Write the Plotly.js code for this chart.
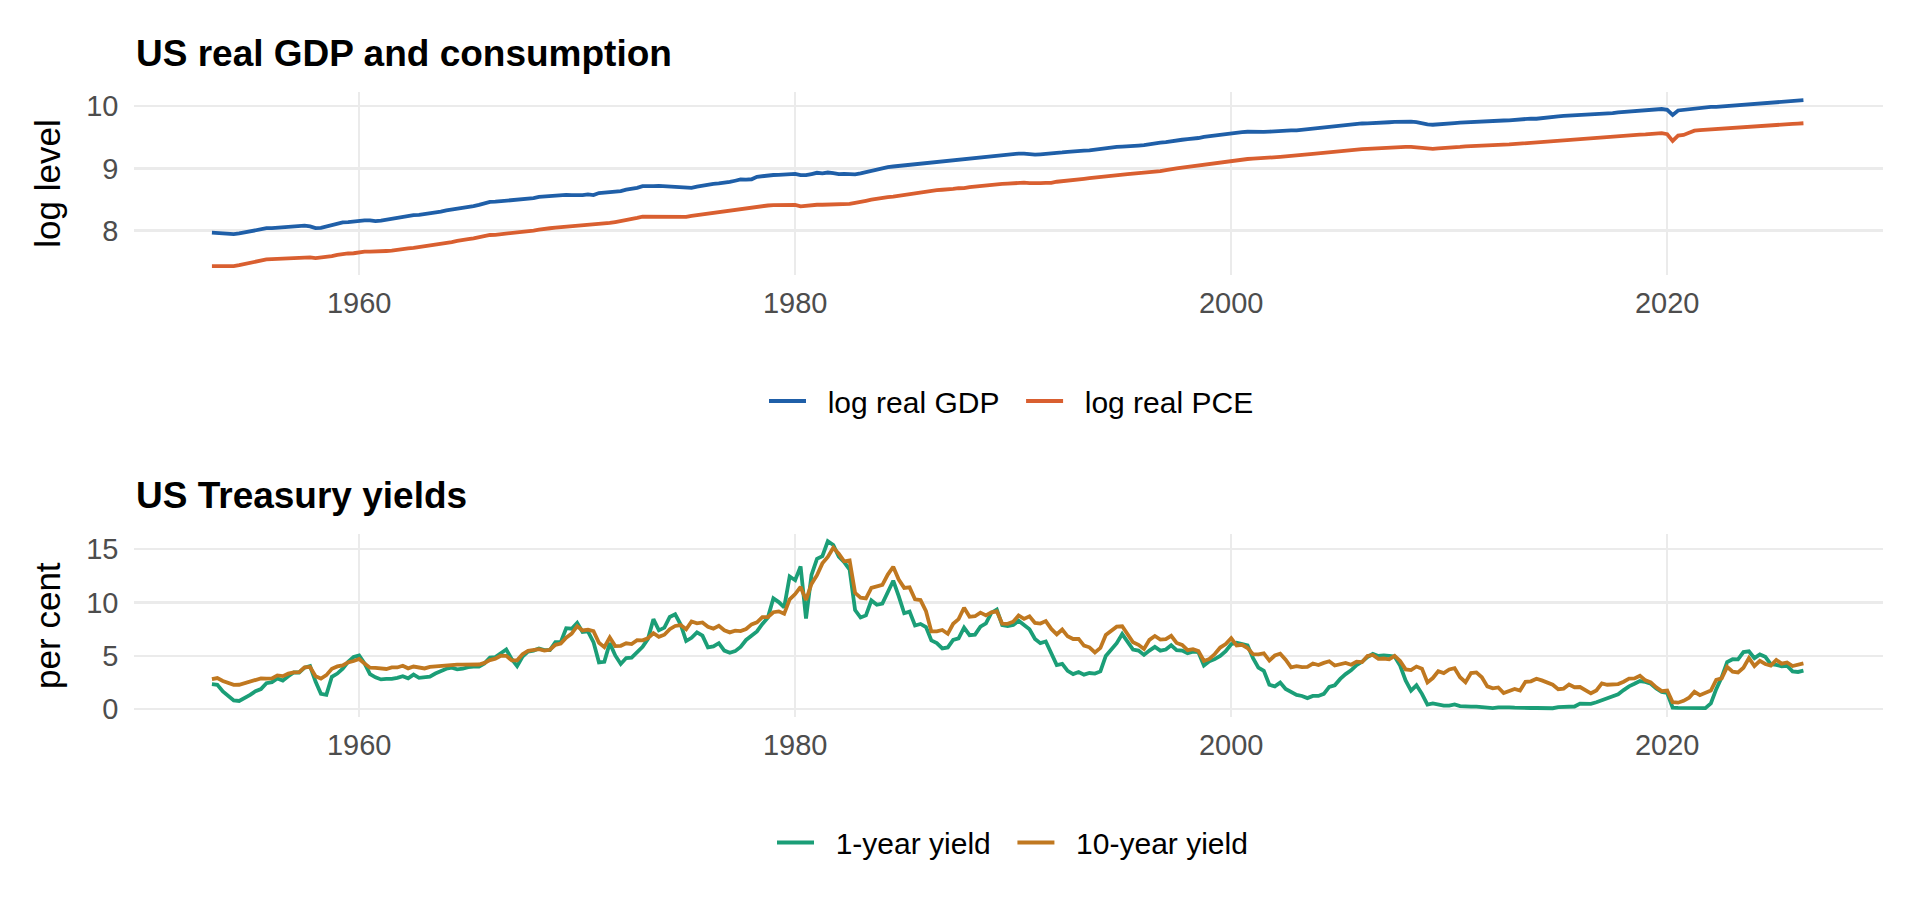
<!DOCTYPE html>
<html>
<head>
<meta charset="utf-8">
<script src="https://cdn.plot.ly/plotly-3.0.1.min.js"></script>
<style>
  html, body { margin: 0; padding: 0; background: #ffffff; }
  #chart { width: 1920px; height: 921px; }
</style>
</head>
<body>
<div id="chart"></div>
<script>
// ---- Data (quarterly, first month of each quarter; 1953Q2 .. 2026Q2) ----
const startYear = 1953;
const startQuarter = 2;
const tickYears = ['1960', '1980', '2000', '2020'];
const levelNames = ['log real GDP', 'log real PCE'];
const yieldNames = ['1-year yield', '10-year yield'];

const logGDP = [
  7.969, 7.963, 7.951,
  7.947, 7.946, 7.955, 7.972,
  7.998, 8.015, 8.030, 8.040,
  8.040, 8.048, 8.050, 8.062,
  8.070, 8.071, 8.080, 8.068,
  8.041, 8.046, 8.070, 8.093,
  8.110, 8.134, 8.137, 8.145,
  8.168, 8.164, 8.166, 8.153,
  8.162, 8.178, 8.196, 8.213,
  8.230, 8.241, 8.251, 8.254,
  8.265, 8.277, 8.298, 8.305,
  8.327, 8.339, 8.354, 8.358,
  8.381, 8.393, 8.413, 8.438,
  8.462, 8.465, 8.474, 8.482,
  8.491, 8.491, 8.498, 8.505,
  8.524, 8.542, 8.550, 8.554,
  8.567, 8.571, 8.576, 8.572,
  8.570, 8.571, 8.582, 8.571,
  8.604, 8.609, 8.616, 8.619,
  8.636, 8.660, 8.670, 8.688,
  8.714, 8.708, 8.714, 8.719,
  8.712, 8.713, 8.700, 8.696,
  8.680, 8.687, 8.708, 8.724,
  8.745, 8.752, 8.758, 8.766,
  8.782, 8.801, 8.821, 8.820,
  8.825, 8.865, 8.876, 8.891,
  8.893, 8.894, 8.903, 8.907,
  8.911, 8.891, 8.890, 8.909,
  8.929, 8.921, 8.933, 8.922,
  8.906, 8.910, 8.905, 8.905,
  8.919, 8.940, 8.962, 8.982,
  9.002, 9.019, 9.030, 9.039,
  9.049, 9.058, 9.074, 9.083,
  9.093, 9.097, 9.107, 9.113,
  9.121, 9.131, 9.141, 9.156,
  9.163, 9.176, 9.183, 9.196,
  9.205, 9.212, 9.218, 9.221,
  9.232, 9.236, 9.236, 9.226,
  9.219, 9.225, 9.229, 9.234,
  9.245, 9.256, 9.266, 9.277,
  9.278, 9.285, 9.289, 9.303,
  9.312, 9.326, 9.333, 9.345,
  9.349, 9.350, 9.359, 9.366,
  9.373, 9.390, 9.400, 9.412,
  9.420, 9.437, 9.449, 9.459,
  9.470, 9.476, 9.487, 9.504,
  9.515, 9.524, 9.538, 9.557,
  9.565, 9.582, 9.583, 9.587,
  9.583, 9.588, 9.586, 9.589,
  9.597, 9.602, 9.607, 9.608,
  9.611, 9.620, 9.637, 9.650,
  9.659, 9.666, 9.676, 9.686,
  9.695, 9.700, 9.709, 9.714,
  9.720, 9.723, 9.724, 9.732,
  9.735, 9.740, 9.745, 9.750,
  9.746, 9.750, 9.743, 9.720,
  9.705, 9.700, 9.703, 9.712,
  9.716, 9.726, 9.733, 9.739,
  9.736, 9.743, 9.743, 9.754,
  9.762, 9.767, 9.768, 9.769,
  9.779, 9.782, 9.790, 9.799,
  9.796, 9.808, 9.820, 9.826,
  9.834, 9.841, 9.845, 9.846,
  9.852, 9.856, 9.862, 9.868,
  9.873, 9.879, 9.886, 9.898,
  9.906, 9.911, 9.917, 9.919,
  9.925, 9.933, 9.945, 9.952,
  9.938, 9.858, 9.929, 9.939,
  9.952, 9.966, 9.976, 9.992,
  9.987, 9.986, 9.992, 10.002,
  10.007, 10.014, 10.027, 10.034,
  10.038, 10.046, 10.053, 10.059,
  10.058, 10.067, 10.076, 10.082,
  10.088, 10.094
];

const logPCE = [
  7.432, 7.430, 7.422,
  7.424, 7.432, 7.446, 7.465,
  7.490, 7.510, 7.528, 7.540,
  7.545, 7.548, 7.553, 7.562,
  7.567, 7.569, 7.575, 7.573,
  7.560, 7.566, 7.580, 7.592,
  7.612, 7.626, 7.634, 7.638,
  7.652, 7.664, 7.663, 7.662,
  7.662, 7.674, 7.679, 7.696,
  7.706, 7.716, 7.725, 7.738,
  7.746, 7.754, 7.768, 7.776,
  7.797, 7.817, 7.836, 7.842,
  7.863, 7.876, 7.893, 7.917,
  7.931, 7.934, 7.944, 7.949,
  7.957, 7.968, 7.974, 7.980,
  8.002, 8.016, 8.034, 8.039,
  8.050, 8.057, 8.062, 8.069,
  8.075, 8.080, 8.089, 8.088,
  8.108, 8.117, 8.124, 8.139,
  8.153, 8.172, 8.188, 8.207,
  8.226, 8.224, 8.228, 8.225,
  8.218, 8.222, 8.228, 8.213,
  8.221, 8.239, 8.251, 8.264,
  8.284, 8.294, 8.305, 8.320,
  8.333, 8.339, 8.349, 8.365,
  8.371, 8.390, 8.396, 8.404,
  8.409, 8.408, 8.414, 8.417,
  8.413, 8.390, 8.401, 8.413,
  8.416, 8.416, 8.420, 8.410,
  8.418, 8.422, 8.431, 8.448,
  8.459, 8.480, 8.497, 8.514,
  8.524, 8.539, 8.547, 8.560,
  8.579, 8.591, 8.610, 8.614,
  8.623, 8.634, 8.652, 8.657,
  8.657, 8.669, 8.681, 8.682,
  8.700, 8.710, 8.719, 8.732,
  8.735, 8.740, 8.751, 8.756,
  8.763, 8.767, 8.770, 8.763,
  8.757, 8.764, 8.768, 8.767,
  8.785, 8.792, 8.803, 8.817,
  8.823, 8.832, 8.843, 8.854,
  8.865, 8.874, 8.882, 8.893,
  8.897, 8.906, 8.915, 8.922,
  8.930, 8.941, 8.946, 8.956,
  8.972, 8.980, 8.998, 9.012,
  9.024, 9.040, 9.052, 9.066,
  9.076, 9.088, 9.099, 9.112,
  9.128, 9.135, 9.143, 9.150,
  9.155, 9.158, 9.161, 9.176,
  9.179, 9.185, 9.192, 9.197,
  9.202, 9.212, 9.226, 9.233,
  9.243, 9.249, 9.258, 9.269,
  9.277, 9.287, 9.295, 9.298,
  9.308, 9.313, 9.319, 9.328,
  9.333, 9.337, 9.342, 9.346,
  9.345, 9.344, 9.335, 9.321,
  9.318, 9.314, 9.321, 9.323,
  9.329, 9.337, 9.343, 9.353,
  9.359, 9.361, 9.364, 9.367,
  9.374, 9.376, 9.380, 9.384,
  9.391, 9.394, 9.400, 9.408,
  9.412, 9.421, 9.431, 9.442,
  9.450, 9.459, 9.465, 9.471,
  9.476, 9.484, 9.489, 9.495,
  9.499, 9.505, 9.510, 9.520,
  9.524, 9.533, 9.540, 9.542,
  9.545, 9.553, 9.560, 9.564,
  9.548, 9.440, 9.526, 9.536,
  9.570, 9.605, 9.612, 9.619,
  9.624, 9.628, 9.632, 9.636,
  9.647, 9.650, 9.657, 9.665,
  9.668, 9.675, 9.684, 9.693,
  9.695, 9.701, 9.709, 9.714,
  9.719, 9.724
];

const yield1y = [
  2.36, 2.30, 1.68,
  1.25, 0.83, 0.78, 1.05,
  1.35, 1.70, 1.90, 2.45,
  2.55, 2.90, 2.70, 3.10,
  3.45, 3.45, 3.90, 4.05,
  2.60, 1.45, 1.35, 3.05,
  3.35, 3.80, 4.45, 4.90,
  5.05, 4.30, 3.30, 3.00,
  2.80, 2.85, 2.85, 2.95,
  3.10, 2.90, 3.25, 2.95,
  3.00, 3.05, 3.35, 3.55,
  3.80, 3.90, 3.75, 3.80,
  3.95, 4.00, 4.00, 4.30,
  4.85, 4.90, 5.25, 5.60,
  4.70, 4.05, 4.95, 5.40,
  5.50, 5.70, 5.55, 5.55,
  6.30, 6.30, 7.60, 7.55,
  8.10, 7.25, 7.30, 6.30,
  4.40, 4.45, 6.20, 5.05,
  4.25, 4.80, 4.85, 5.30,
  5.85, 6.60, 8.45, 7.40,
  7.65, 8.65, 8.90, 7.95,
  6.40, 6.70, 7.20, 6.90,
  5.80, 5.90, 6.20, 5.50,
  5.30, 5.45, 5.85, 6.50,
  6.95, 7.30, 8.00, 8.60,
  10.40, 10.05, 9.55, 12.45,
  12.10, 13.40, 8.50, 12.60,
  14.10, 14.35, 15.75, 15.40,
  14.30, 13.80, 13.10, 9.30,
  8.60, 8.80, 10.20, 9.80,
  9.90, 10.90, 12.05, 10.60,
  9.00, 9.15, 7.85, 8.00,
  7.70, 6.45, 6.20, 5.70,
  5.80, 6.50, 6.65, 7.65,
  6.95, 7.00, 7.75, 8.05,
  9.05, 9.35, 7.90, 7.80,
  7.90, 8.30, 7.90, 7.50,
  6.60, 6.20, 6.35, 5.30,
  4.15, 4.25, 3.60, 3.30,
  3.50, 3.25, 3.40, 3.35,
  3.55, 5.00, 5.60, 6.20,
  7.05, 6.25, 5.60, 5.50,
  5.10, 5.50, 5.85, 5.50,
  5.60, 6.00, 5.55, 5.50,
  5.25, 5.40, 5.35, 4.10,
  4.50, 4.70, 5.00, 5.45,
  6.10, 6.25, 6.10, 6.00,
  4.80, 3.90, 3.60, 2.30,
  2.15, 2.50, 1.90, 1.60,
  1.35, 1.25, 1.05, 1.25,
  1.25, 1.45, 2.10, 2.25,
  2.85, 3.30, 3.65, 4.15,
  4.45, 4.90, 5.20, 5.00,
  5.05, 5.00, 4.95, 4.10,
  2.70, 1.75, 2.25, 1.45,
  0.45, 0.55, 0.45, 0.35,
  0.35, 0.45, 0.30, 0.25,
  0.25, 0.25, 0.20, 0.12,
  0.12, 0.18, 0.20, 0.18,
  0.15, 0.12, 0.12, 0.12,
  0.12, 0.11, 0.11, 0.10,
  0.20, 0.23, 0.30, 0.26,
  0.54, 0.55, 0.51, 0.66,
  0.83, 1.07, 1.22, 1.40,
  1.80, 2.15, 2.39, 2.65,
  2.56, 2.39, 1.96, 1.63,
  1.53, 0.16, 0.13, 0.13,
  0.10, 0.06, 0.08, 0.11,
  0.55, 1.89, 2.99, 4.43,
  4.69, 4.68, 5.37, 5.44,
  4.79, 5.14, 4.92, 4.23,
  4.17, 4.03, 4.08, 3.55,
  3.50, 3.62
];

const yield10y = [
  2.83, 2.93, 2.66,
  2.48, 2.29, 2.30, 2.43,
  2.61, 2.75, 2.90, 2.88,
  2.90, 3.18, 3.11, 3.34,
  3.46, 3.48, 3.93, 3.97,
  3.09, 2.88, 3.20, 3.80,
  4.02, 4.12, 4.40, 4.53,
  4.72, 4.28, 3.90, 3.89,
  3.84, 3.78, 3.92, 3.92,
  4.08, 3.84, 4.01, 3.93,
  3.83, 3.97, 4.02, 4.11,
  4.17, 4.23, 4.19, 4.19,
  4.19, 4.20, 4.20, 4.35,
  4.61, 4.75, 5.02, 5.01,
  4.58, 4.59, 5.16, 5.48,
  5.53, 5.64, 5.50, 5.58,
  6.04, 6.17, 6.72, 7.10,
  7.79, 7.39, 7.46, 7.33,
  6.24, 5.83, 6.73, 5.93,
  5.95, 6.19, 6.11, 6.48,
  6.46, 6.67, 7.13, 6.79,
  6.99, 7.51, 7.81, 7.90,
  7.50, 8.23, 8.06, 8.14,
  7.74, 7.56, 7.83, 7.41,
  7.21, 7.37, 7.33, 7.52,
  7.96, 8.15, 8.64, 8.64,
  9.10, 9.18, 8.95, 10.30,
  10.80, 11.47, 10.25, 11.75,
  12.57, 13.68, 14.28, 15.15,
  14.59, 13.87, 13.95, 10.91,
  10.46, 10.40, 11.38, 11.54,
  11.67, 12.63, 13.36, 12.16,
  11.38, 11.43, 10.31, 10.24,
  9.19, 7.30, 7.30, 7.43,
  7.08, 8.02, 8.45, 9.52,
  8.67, 8.72, 9.06, 8.80,
  9.09, 9.18, 8.02, 8.01,
  8.21, 8.79, 8.47, 8.72,
  8.09, 8.04, 8.27, 7.53,
  7.03, 7.48, 6.84, 6.59,
  6.60, 5.97, 5.81, 5.33,
  5.75, 6.97, 7.30, 7.74,
  7.78, 7.06, 6.28, 6.04,
  5.65, 6.51, 6.87, 6.53,
  6.58, 6.89, 6.22, 6.03,
  5.54, 5.64, 5.46, 4.53,
  4.72, 5.18, 5.79, 6.11,
  6.66, 5.99, 6.05, 5.74,
  5.16, 5.14, 5.24, 4.57,
  5.04, 5.21, 4.65, 3.94,
  4.05, 3.96, 3.98, 4.29,
  4.15, 4.35, 4.50, 4.10,
  4.22, 4.34, 4.18, 4.46,
  4.42, 4.99, 5.09, 4.73,
  4.76, 4.69, 5.00, 4.53,
  3.74, 3.68, 4.01, 3.81,
  2.52, 2.93, 3.56, 3.39,
  3.73, 3.85, 3.01, 2.54,
  3.39, 3.46, 3.00, 2.15,
  1.97, 2.05, 1.53, 1.75,
  1.91, 1.76, 2.58, 2.62,
  2.86, 2.71, 2.54, 2.30,
  1.88, 1.94, 2.32, 2.07,
  2.09, 1.81, 1.50, 1.76,
  2.43, 2.30, 2.32, 2.36,
  2.58, 2.87, 2.89, 3.15,
  2.71, 2.53, 2.06, 1.71,
  1.76, 0.66, 0.62, 0.79,
  1.08, 1.64, 1.32, 1.58,
  1.76, 2.75, 2.90, 3.98,
  3.53, 3.46, 3.90, 4.80,
  4.06, 4.54, 4.25, 4.10,
  4.63, 4.28, 4.39, 4.06,
  4.18, 4.30
];

// ---- Quarter dates (index for the series) ----
const quarterMonths = ['01', '04', '07', '10'];
const dates = logGDP.map(function (_, i) {
  const q = startQuarter - 1 + i;
  return (startYear + Math.floor(q / 4)) + '-' + quarterMonths[q % 4] + '-01';
});

// ---- Styling ----
const FONT = 'Liberation Sans, Arial, Helvetica, sans-serif';
const W = 1920, H = 921;
const xDomain = [133.5 / W, 1883 / W];
const gridColor = '#EBEBEB';
// spacing between legend key and label, and between legend entries
const KEY_GAP = '\u00a0\u00a0';
const ENTRY_GAP = '\u00a0\u00a0';

function xAxis(anchor) {
  return {
    domain: xDomain, anchor: anchor, type: 'date',
    range: ['1949-08-26', '2029-11-24'],
    tickmode: 'array',
    tickvals: tickYears.map(function (y) { return y + '-01-01'; }),
    ticktext: tickYears,
    showgrid: true, gridcolor: gridColor, gridwidth: 2.4,
    zeroline: false, showline: false, ticks: '',
    ticklabelstandoff: 8,
    tickfont: { family: FONT, size: 29, color: '#4D4D4D' },
    fixedrange: true
  };
}
function yAxis(anchor, domain, range, tickvals, title) {
  return {
    domain: domain, anchor: anchor, range: range,
    tickmode: 'array', tickvals: tickvals,
    showgrid: true, gridcolor: gridColor, gridwidth: 2.4,
    zeroline: false, showline: false, ticks: '',
    ticklabelstandoff: 14,
    tickfont: { family: FONT, size: 29, color: '#4D4D4D' },
    title: { text: title, font: { family: FONT, size: 35, color: '#000000' }, standoff: 14 },
    fixedrange: true
  };
}

const traces = [
  { x: dates, y: logGDP, type: 'scatter', mode: 'lines', name: KEY_GAP + levelNames[0] + ENTRY_GAP,
    line: { color: '#1F5FA8', width: 3.8 }, xaxis: 'x', yaxis: 'y', legend: 'legend' },
  { x: dates, y: logPCE, type: 'scatter', mode: 'lines', name: KEY_GAP + levelNames[1],
    line: { color: '#D95F30', width: 3.8 }, xaxis: 'x', yaxis: 'y', legend: 'legend' },
  { x: dates, y: yield1y, type: 'scatter', mode: 'lines', name: KEY_GAP + yieldNames[0] + ENTRY_GAP,
    line: { color: '#1B9E77', width: 3.8 }, xaxis: 'x2', yaxis: 'y2', legend: 'legend2' },
  { x: dates, y: yield10y, type: 'scatter', mode: 'lines', name: KEY_GAP + yieldNames[1],
    line: { color: '#C07820', width: 3.8 }, xaxis: 'x2', yaxis: 'y2', legend: 'legend2' }
];

const legendBase = {
  orientation: 'h', xanchor: 'left', yanchor: 'middle',
  itemwidth: 37,
  font: { family: FONT, size: 30, color: '#000000' },
  bgcolor: 'rgba(0,0,0,0)', borderwidth: 0,
  itemclick: false, itemdoubleclick: false
};

const layout = {
  width: W, height: H,
  margin: { l: 0, r: 0, t: 0, b: 0, pad: 0 },
  paper_bgcolor: '#ffffff', plot_bgcolor: '#ffffff',
  font: { family: FONT },
  showlegend: true,
  xaxis: xAxis('y'),
  yaxis: yAxis('x', [1 - 275.3 / H, 1 - 91.7 / H], [7.284, 10.23], [8, 9, 10], 'log level'),
  xaxis2: xAxis('y2'),
  yaxis2: yAxis('x2', [1 - 717.3 / H, 1 - 534 / H], [-0.75, 16.43], [0, 5, 10, 15], 'per cent'),
  legend: Object.assign({}, legendBase, { x: 764 / W, y: 1 - 401 / H }),
  legend2: Object.assign({}, legendBase, { x: 772 / W, y: 1 - 842.5 / H }),
  annotations: [
    { text: '<b>US real GDP and consumption</b>', xref: 'paper', yref: 'paper',
      x: 133.5 / W, y: 1 - 53 / H, xanchor: 'left', yanchor: 'middle', showarrow: false,
      font: { family: FONT, size: 37, color: '#000000' } },
    { text: '<b>US Treasury yields</b>', xref: 'paper', yref: 'paper',
      x: 133.5 / W, y: 1 - 495 / H, xanchor: 'left', yanchor: 'middle', showarrow: false,
      font: { family: FONT, size: 37, color: '#000000' } }
  ]
};

Plotly.newPlot('chart', traces, layout, { staticPlot: true, displayModeBar: false });
</script>
</body>
</html>
